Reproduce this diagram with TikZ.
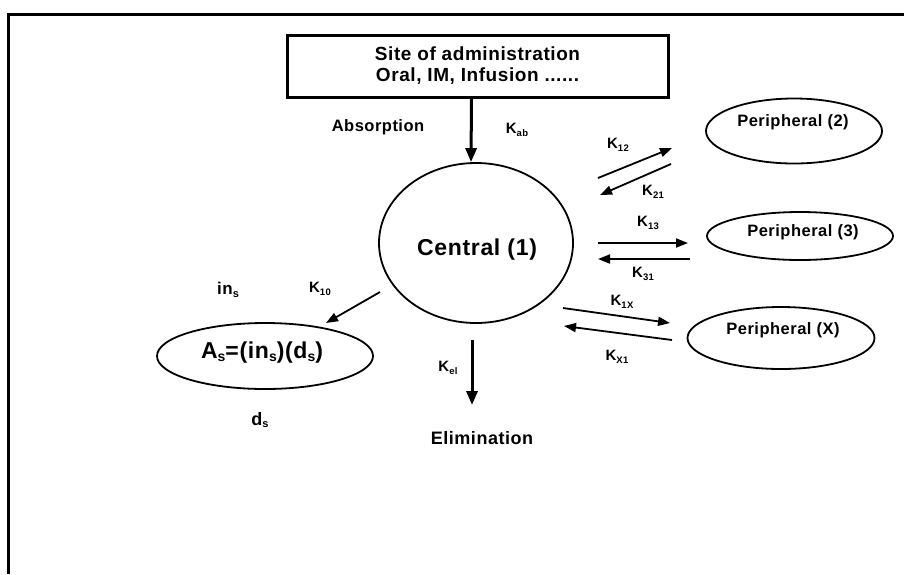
\documentclass[tikz,border=0pt]{standalone}
\usepackage{fontspec}
\setmainfont{Liberation Sans}[LetterSpace=3]
\usetikzlibrary{shapes.geometric,arrows.meta}
\newcommand\lowsub[2][9.5]{\raisebox{-2.5pt}{\fontsize{#1}{#1}\selectfont #2}}
\begin{document}
\begin{tikzpicture}[x=1pt,y=-1pt,
  every node/.style={font=\bfseries, inner sep=0pt},
  klbl/.style={font=\bfseries\fontsize{15}{17}\selectfont},
  txt/.style={font=\bfseries\fontsize{16.5}{18}\selectfont},
  thinarrow/.style={line width=1.8pt,-{Triangle[length=12pt,width=9pt]}},
  thickarrow/.style={line width=3pt,-{Triangle[length=14pt,width=11pt]}},
  oval/.style={draw,ellipse,line width=1.8pt,inner sep=0pt}]
\useasboundingbox (0,0) rectangle (904,574);
\fill[white] (0,0) rectangle (904,574);
% frame
\draw[line width=3pt] (8,574) -- (8,14) -- (904,14);
% site of administration
\node[draw, line width=3pt, minimum width=381pt, minimum height=62pt, align=center,
      font=\bfseries\fontsize{19}{21}\selectfont] (site) at (477.5,66)
      {Site of administration\\Oral, IM, Infusion ......};
% central
\node[oval, minimum width=194pt, minimum height=160pt] (central) at (476,243) {};
\node[font=\bfseries\fontsize{23}{26}\selectfont] (centraltxt) at (477,250) {Central (1)};
% peripherals
\node[oval, minimum width=176pt, minimum height=65pt] (p2) at (794,131) {};
\node[txt] (p2txt) at (793,122) {Peripheral (2)};
\node[oval, minimum width=186pt, minimum height=48pt] (p3) at (800,236) {};
\node[txt] (p3txt) at (803,232) {Peripheral (3)};
\node[oval, minimum width=187pt, minimum height=62pt] (px) at (781,338) {};
\node[txt] (pxtxt) at (783,330) {Peripheral (X)};
% As compartment
\node[oval, minimum width=216pt, minimum height=66pt] (as) at (265,356) {};
\node[font=\bfseries\fontsize{23}{26}\selectfont] (astxt) at (262,353)
     {A\lowsub[14]{s}=(in\lowsub[14]{s})(d\lowsub[14]{s})};
% labels
\node[txt] (absorption) at (378,127) {Absorption};
\node[font=\bfseries\fontsize{18}{20}\selectfont] (elimination) at (482,438) {Elimination};
\node[klbl] (kab) at (517,130) {K\lowsub{ab}};
\node[klbl] (k12) at (618,145) {K\lowsub{12}};
\node[klbl] (k21) at (653,192) {K\lowsub{21}};
\node[klbl] (k13) at (648,223) {K\lowsub{13}};
\node[klbl] (k31) at (643,274) {K\lowsub{31}};
\node[klbl] (k1x) at (622,302) {K\lowsub{1X}};
\node[klbl] (kx1) at (617,357) {K\lowsub{X1}};
\node[klbl] (k10) at (320,289) {K\lowsub{10}};
\node[klbl] (kel) at (448,368) {K\lowsub{el}};
\node[font=\bfseries\fontsize{17}{19}\selectfont] (ins) at (228,290) {in\lowsub[11]{s}};
\node[font=\bfseries\fontsize{18}{20}\selectfont] (ds) at (260,420) {d\lowsub[11]{s}};
% arrow end points
\coordinate (a12s) at (598,178); \coordinate (a12e) at (672,148);
\coordinate (a21s) at (671,164); \coordinate (a21e) at (600,195);
\coordinate (a13s) at (598,243); \coordinate (a13e) at (688,243);
\coordinate (a31s) at (690,259); \coordinate (a31e) at (598,259);
\coordinate (a1xs) at (563,308); \coordinate (a1xe) at (670,323);
\coordinate (ax1s) at (672,340); \coordinate (ax1e) at (564,326);
\coordinate (a10s) at (380,292); \coordinate (a10e) at (326,323);
\coordinate (aels) at (472,340); \coordinate (aele) at (472,405);
% arrows
\draw[thickarrow] ([xshift=-6pt]site.south) -- ([xshift=-5pt]central.north);
\draw[thickarrow] (aels) -- (aele);
\draw[thinarrow] (a12s) -- (a12e);
\draw[thinarrow] (a21s) -- (a21e);
\draw[thinarrow] (a13s) -- (a13e);
\draw[thinarrow] (a31s) -- (a31e);
\draw[thinarrow] (a1xs) -- (a1xe);
\draw[thinarrow] (ax1s) -- (ax1e);
\draw[thinarrow] (a10s) -- (a10e);
\end{tikzpicture}
\end{document}
